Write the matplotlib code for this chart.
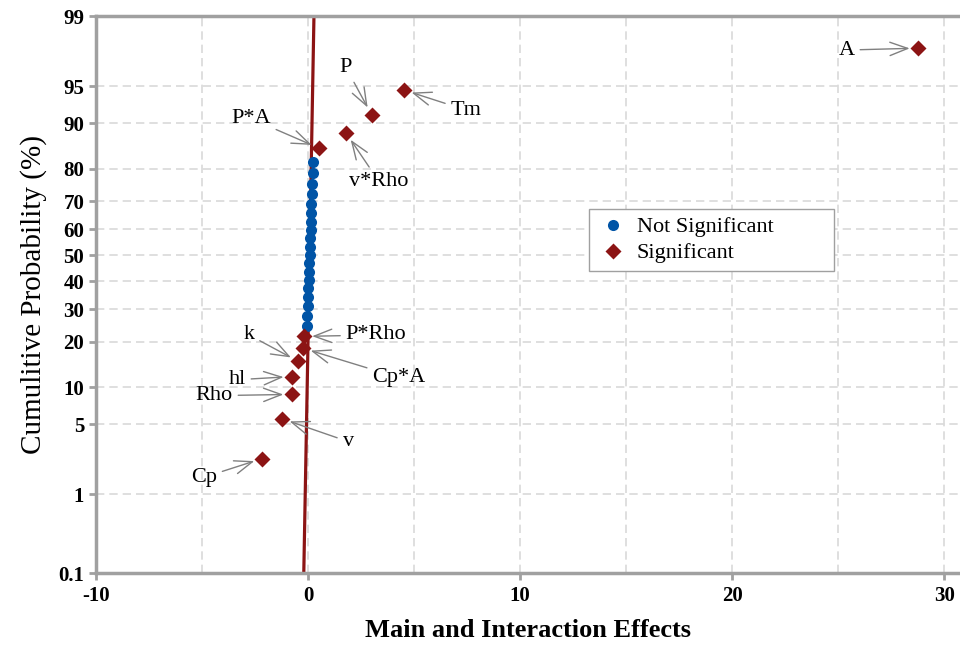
import matplotlib
matplotlib.use("Agg")
import matplotlib.pyplot as plt
import numpy as np
from statistics import NormalDist

# эффекты, не значимые (синие точки)
ns_prob = [24.7, 27.8, 31.0, 34.2, 37.4, 40.6, 43.7, 46.9, 50.1, 53.3,
           56.5, 59.6, 62.8, 66.0, 69.2, 72.4, 75.5, 78.7, 81.9]
ns_effect = [-0.06, -0.03, -0.01, 0.0, 0.02, 0.04, 0.05, 0.06, 0.07, 0.08,
             0.10, 0.12, 0.13, 0.14, 0.16, 0.17, 0.18, 0.23, 0.25]

# значимые эффекты (красные ромбы)
sig_names = ["Cp", "v", "Rho", "hl", "k", "Cp*A", "P*Rho",
             "P*A", "v*Rho", "P", "Tm", "A"]
sig_prob = [2.4, 5.6, 8.8, 11.9, 15.1, 18.3, 21.5,
            85.1, 88.3, 91.4, 94.6, 97.8]
sig_effect = [-2.16, -1.24, -0.77, -0.76, -0.46, -0.25, -0.20,
              0.53, 1.79, 3.00, 4.51, 28.77]

# линия нормального распределения
fit_prob = [0.1, 99]
fit_effect = [-0.20, 0.28]

y_ticks = [0.1, 1, 5, 10, 20, 30, 40, 50, 60, 70, 80, 90, 95, 99]

# положения подписей (x, вероятность)
label_pos = {
    "A": (25.4, 97.7), "Tm": (7.45, 92.1), "P": (1.79, 96.6),
    "P*A": (-2.69, 90.8), "v*Rho": (3.35, 76.3), "P*Rho": (3.21, 21.9),
    "Cp*A": (4.29, 11.7), "k": (-2.78, 21.9), "hl": (-3.35, 11.3),
    "Rho": (-4.43, 8.6), "v": (1.89, 3.5), "Cp": (-4.91, 1.54),
}

nd = NormalDist()


def fwd(p):
    p = np.clip(np.asarray(p, dtype=float) / 100.0, 1e-9, 1 - 1e-9)
    return np.vectorize(nd.inv_cdf, otypes=[float])(p)


def inv(z):
    z = np.asarray(z, dtype=float)
    return np.vectorize(nd.cdf, otypes=[float])(z) * 100.0


plt.rcParams['font.family'] = ['Liberation Serif', 'DejaVu Serif']
plt.rcParams['axes.unicode_minus'] = False

fig = plt.figure(figsize=(9.6, 6.49), dpi=100)
ax = fig.add_axes([0.1, 0.1171, 0.9, 0.8582])
ax.set_yscale('function', functions=(fwd, inv))

red = '#8c1414'
blue = '#0054a6'
gray = '#a0a0a0'

ax.plot(fit_effect, fit_prob, color=red, lw=2.3, zorder=2)
ax.plot(ns_effect, ns_prob, 'o', color=blue, ms=8, mec='none',
        label='Not Significant', zorder=3)
ax.plot(sig_effect, sig_prob, 'D', color=red, ms=8.5, mec='none',
        label='Significant', zorder=3)

for name, x, p in zip(sig_names, sig_effect, sig_prob):
    tx, tp = label_pos[name]
    ax.annotate(name, xy=(x, p), xytext=(tx, tp), fontsize=16,
                ha='center', va='center',
                arrowprops=dict(arrowstyle='->,head_length=0.8,head_width=0.3',
                                color='#808080', lw=1, shrinkA=2, shrinkB=6))

ax.set_xlim(-10, 30.75)
ax.set_ylim(0.1, 99)
ax.set_yticks(y_ticks)
ax.set_yticklabels([str(t) for t in y_ticks])
ax.set_xticks([-10, 0, 10, 20, 30])
ax.set_xticks(np.arange(-5, 31, 5), minor=True)
ax.yaxis.set_minor_locator(matplotlib.ticker.NullLocator())

ax.grid(True, which='both', axis='x', color='#d9d9d9', ls=(0, (5, 3)), lw=1.2)
ax.grid(True, which='major', axis='y', color='#d9d9d9', ls=(0, (5, 3)), lw=1.2)
ax.set_axisbelow(True)

for s in ['left', 'bottom', 'top']:
    ax.spines[s].set_color(gray)
    ax.spines[s].set_linewidth(2.5)
ax.spines['right'].set_visible(False)

ax.tick_params(axis='both', which='major', color=gray, width=2, length=5,
               labelsize=15)
ax.tick_params(axis='x', which='major', pad=4)
ax.tick_params(axis='x', which='minor', length=0)
for lab in ax.get_xticklabels() + ax.get_yticklabels():
    lab.set_fontweight('bold')

ax.set_xlabel('Main and Interaction Effects', fontsize=19, fontweight='bold',
              labelpad=10)
ax.set_ylabel('Cumulitive Probability (%)', fontsize=21, labelpad=8)

leg = ax.legend(loc='upper left', bbox_to_anchor=(0.5706, 0.5315, 0.2836, 0.122),
                mode='expand', borderaxespad=0, fontsize=16, fancybox=False,
                edgecolor=gray, framealpha=1, handletextpad=0.3,
                handlelength=1.5, borderpad=0.35, labelspacing=0.25)
leg.get_frame().set_linewidth(1)

fig.savefig('out.png', dpi=100)
